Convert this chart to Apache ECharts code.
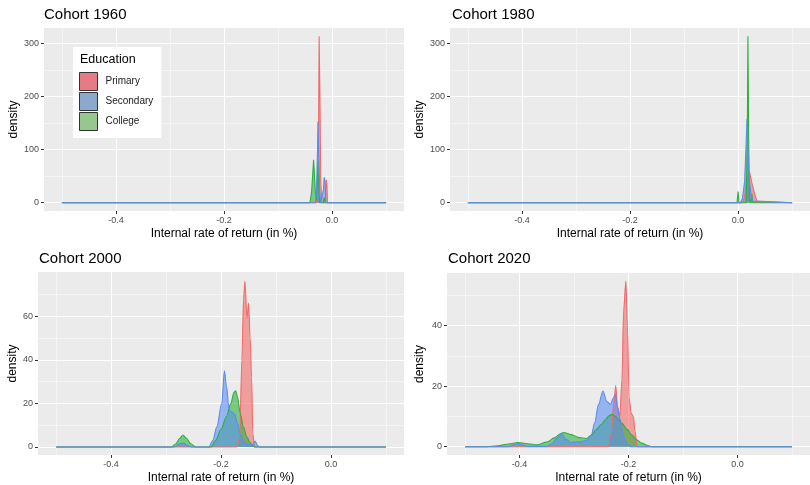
<!DOCTYPE html>
<html>
<head>
<meta charset="utf-8">
<script src="https://cdn.jsdelivr.net/npm/echarts@6/dist/echarts.min.js"></script>
<style>html,body{margin:0;padding:0;background:#fff}#c{width:810px;height:485px}</style>
</head>
<body>
<div id="c"></div>
<script>
// ---------- data ----------
const cohorts = ['Cohort 1960', 'Cohort 1980', 'Cohort 2000', 'Cohort 2020'];
const educationLevels = ['Primary', 'Secondary', 'College'];
const xMajorTicks = [-0.4, -0.2, 0.0];
const xMinorTicks = [-0.5, -0.3, -0.1, 0.1];
const yMajorTicks1960 = [0, 100, 200, 300];
const yMinorTicks1960 = [50, 150, 250];
const yMajorTicks1980 = [0, 100, 200, 300];
const yMinorTicks1980 = [50, 150, 250];
const yMajorTicks2000 = [0, 20, 40, 60];
const yMinorTicks2000 = [10, 30, 50, 70];
const yMajorTicks2020 = [0, 20, 40];
const yMinorTicks2020 = [10, 30, 50];

const primary1960 = [[-0.5,0],[-0.029,0],[-0.027,20],[-0.025,150],[-0.024,314],[-0.0225,200],[-0.021,40],[-0.019,0],[-0.0125,0],[-0.0115,30],[-0.0105,43],[-0.0095,30],[-0.0085,0],[0.1,0]];
const secondary1960 = [[-0.5,0],[-0.031,0],[-0.029,20],[-0.027,100],[-0.0262,153],[-0.025,100],[-0.023,20],[-0.021,0],[-0.0175,0],[-0.016,25],[-0.0147,48],[-0.013,40],[-0.0115,0],[0.1,0]];
const college1960 = [[-0.5,0],[-0.041,0],[-0.038,20],[-0.0355,60],[-0.0343,81],[-0.033,60],[-0.031,20],[-0.029,5],[-0.027,50],[-0.026,80],[-0.025,40],[-0.023,0],[-0.016,0],[-0.0147,10],[-0.013,0],[0.1,0]];

const primary1980 = [[-0.5,0],[0.008,0],[0.012,10],[0.016,50],[0.0213,57],[0.026,35],[0.031,15],[0.035,3],[0.037,0],[0.1,0]];
const secondary1980 = [[-0.5,0],[0.004,0],[0.008,8],[0.012,40],[0.0155,130],[0.0164,158],[0.018,100],[0.021,40],[0.024,15],[0.027,3],[0.030,0],[0.1,0]];
const college1980 = [[-0.5,0],[-0.002,0],[0.0,21],[0.0015,0],[0.015,0],[0.017,120],[0.0182,314],[0.0195,120],[0.021,5],[0.023,0],[0.0245,0],[0.0255,17],[0.027,0],[0.1,0]];

const primary2000 = [[-0.5,0],[-0.171,0],[-0.166,4],[-0.162,40],[-0.159,68],[-0.1564,76],[-0.1528,59],[-0.1498,66],[-0.147,50],[-0.1443,32],[-0.142,6],[-0.139,0],[0.1,0]];
const secondary2000 = [[-0.5,0],[-0.285,0],[-0.275,1.5],[-0.268,1.8],[-0.26,0.5],[-0.252,0],[-0.222,0],[-0.215,3],[-0.2076,9.3],[-0.1986,20],[-0.1938,35],[-0.190,28],[-0.1853,17],[-0.180,16],[-0.175,15],[-0.170,11],[-0.165,6],[-0.158,2],[-0.150,1],[-0.143,1],[-0.138,2.7],[-0.133,0.5],[-0.128,0],[0.1,0]];
const college2000 = [[-0.5,0],[-0.290,0],[-0.282,1.5],[-0.275,4],[-0.2693,5.5],[-0.263,4],[-0.255,1.5],[-0.246,0],[-0.218,0],[-0.210,3],[-0.200,8],[-0.190,14],[-0.182,20],[-0.1765,25],[-0.1733,25.8],[-0.170,23],[-0.165,15.4],[-0.159,9],[-0.153,4.7],[-0.147,2],[-0.142,0.5],[-0.138,0],[0.1,0]];

const primary2020 = [[-0.5,0],[-0.237,0],[-0.232,4],[-0.227,14],[-0.2235,20.2],[-0.220,13],[-0.216,10],[-0.212,22],[-0.209,45],[-0.2048,54.7],[-0.202,40],[-0.1988,16],[-0.195,11],[-0.191,10],[-0.188,5],[-0.184,0],[0.1,0]];
const secondary2020 = [[-0.5,0],[-0.42,0],[-0.41,0.6],[-0.403,1.1],[-0.395,0.6],[-0.385,0.1],[-0.35,0.1],[-0.34,1],[-0.33,3],[-0.3225,4.2],[-0.315,2.5],[-0.305,1.4],[-0.29,1.6],[-0.275,2.2],[-0.268,4],[-0.262,8],[-0.255,14],[-0.2468,18.4],[-0.240,15],[-0.233,14],[-0.228,16],[-0.224,17.3],[-0.220,13],[-0.215,8.8],[-0.210,4],[-0.206,2],[-0.200,0.5],[-0.195,0],[0.1,0]];
const college2020 = [[-0.5,0],[-0.46,0],[-0.44,0.3],[-0.42,0.9],[-0.403,1.4],[-0.385,1.0],[-0.368,0.6],[-0.35,1.5],[-0.335,3],[-0.325,4.3],[-0.319,4.7],[-0.305,4.0],[-0.29,3],[-0.278,2.7],[-0.268,3.8],[-0.26,5.5],[-0.25,7.3],[-0.242,9],[-0.236,10.2],[-0.230,10.7],[-0.224,10],[-0.218,9],[-0.212,7.7],[-0.203,5.8],[-0.194,3.9],[-0.185,2.3],[-0.176,1.2],[-0.165,0.4],[-0.158,0],[0.1,0]];

// ---------- layout / style ----------
const FONT = '"Liberation Sans", Arial, sans-serif';
const lineColors = {Primary: '#F26B6B', Secondary: '#5A8DF2', College: '#2DB03A'};
const keyColors = {Primary: '#E67A85', Secondary: '#8AA9CC', College: '#96C78F'};
const panels = [
  {title: cohorts[0], left: 44, top: 28, width: 360, height: 183, ymin: -15.7, ymax: 329.7, yMaj: yMajorTicks1960, yMin: yMinorTicks1960, nameGap: 24, smooth: false,
   data: {Primary: primary1960, Secondary: secondary1960, College: college1960}, tLeft: 39, tTop: 2},
  {title: cohorts[1], left: 450, top: 28, width: 363, height: 183, ymin: -15.7, ymax: 329.7, yMaj: yMajorTicks1980, yMin: yMinorTicks1980, nameGap: 22, smooth: false,
   data: {Primary: primary1980, Secondary: secondary1980, College: college1980}, tLeft: 447, tTop: 2},
  {title: cohorts[2], left: 38, top: 272, width: 366, height: 183, ymin: -3.67, ymax: 80.3, yMaj: yMajorTicks2000, yMin: yMinorTicks2000, nameGap: 19, smooth: 0.3,
   data: {Primary: primary2000, Secondary: secondary2000, College: college2000}, tLeft: 34, tTop: 246},
  {title: cohorts[3], left: 447, top: 273, width: 366, height: 182, ymin: -2.74, ymax: 57.4, yMaj: yMajorTicks2020, yMin: yMinorTicks2020, nameGap: 21, smooth: 0.3,
   data: {Primary: primary2020, Secondary: secondary2020, College: college2020}, tLeft: 443, tTop: 246}
];
const drawOrder = ['Primary', 'College', 'Secondary'];

const grid = [], xAxis = [], yAxis = [], series = [], title = [];
panels.forEach((p, i) => {
  grid.push({left: p.left, top: p.top, width: p.width, height: p.height, show: true, backgroundColor: '#EBEBEB', borderWidth: 0});
  title.push({text: p.title, left: p.tLeft, top: p.tTop, textStyle: {fontFamily: FONT, fontSize: 15, fontWeight: 'normal', color: '#000'}});
  xAxis.push({
    type: 'value', gridIndex: i, min: -0.533, max: 0.133, position: 'bottom',
    name: 'Internal rate of return (in %)', nameLocation: 'middle', nameGap: 17,
    nameTextStyle: {fontFamily: FONT, fontSize: 12, color: '#000'},
    axisLine: {show: false, onZero: false},
    axisTick: {show: true, length: 3, customValues: xMajorTicks, lineStyle: {color: '#333', width: 1}},
    axisLabel: {customValues: xMajorTicks, formatter: v => v.toFixed(1), fontFamily: FONT, fontSize: 9, color: '#4D4D4D', margin: 5},
    splitLine: {show: true, lineStyle: {color: '#fff', width: 1.1}}
  });
  xAxis.push({
    type: 'value', gridIndex: i, min: -0.533, max: 0.133, position: 'bottom',
    axisLine: {show: false, onZero: false}, axisLabel: {show: false},
    axisTick: {show: false, customValues: xMinorTicks},
    splitLine: {show: true, lineStyle: {color: '#fff', width: 0.5}}
  });
  yAxis.push({
    type: 'value', gridIndex: i, min: p.ymin, max: p.ymax, position: 'left',
    name: 'density', nameLocation: 'middle', nameGap: p.nameGap,
    nameTextStyle: {fontFamily: FONT, fontSize: 12, color: '#000'},
    axisLine: {show: false, onZero: false},
    axisTick: {show: true, length: 3, customValues: p.yMaj, lineStyle: {color: '#333', width: 1}},
    axisLabel: {customValues: p.yMaj, fontFamily: FONT, fontSize: 9, color: '#4D4D4D', margin: 5},
    splitLine: {show: true, lineStyle: {color: '#fff', width: 1.1}}
  });
  yAxis.push({
    type: 'value', gridIndex: i, min: p.ymin, max: p.ymax, position: 'left',
    axisLine: {show: false, onZero: false}, axisLabel: {show: false},
    axisTick: {show: false, customValues: p.yMin},
    splitLine: {show: true, lineStyle: {color: '#fff', width: 0.5}}
  });
  drawOrder.forEach(name => {
    series.push({
      name: name, type: 'line', xAxisIndex: 2 * i, yAxisIndex: 2 * i,
      data: p.data[name], showSymbol: false, symbol: 'none', smooth: p.smooth, smoothMonotone: 'x',
      lineStyle: {color: lineColors[name], width: 1.1},
      itemStyle: {color: lineColors[name]},
      areaStyle: {color: lineColors[name], opacity: 0.6},
      emphasis: {disabled: true}, silent: true, animation: false
    });
  });
});

const chart = echarts.init(document.getElementById('c'), null, {renderer: 'canvas'});
chart.setOption({
  animation: false,
  textStyle: {fontFamily: FONT},
  title: title,
  grid: grid, xAxis: xAxis, yAxis: yAxis, series: series,
  legend: {
    left: 73, top: 47, orient: 'vertical', selectedMode: false,
    backgroundColor: '#fff', padding: [25, 8, 7, 6],
    itemWidth: 18, itemHeight: 18, itemGap: 1, icon: 'rect',
    textStyle: {fontFamily: FONT, fontSize: 10, color: '#1A1A1A', padding: [0, 0, 0, 3]},
    data: educationLevels.map(n => ({name: n, itemStyle: {color: keyColors[n], borderColor: '#333', borderWidth: 1}}))
  },
  graphic: [{type: 'text', left: 80, top: 53, z: 200, style: {text: 'Education', fontFamily: FONT, fontSize: 12.5, fill: '#000'}}]
});
</script>
</body>
</html>
